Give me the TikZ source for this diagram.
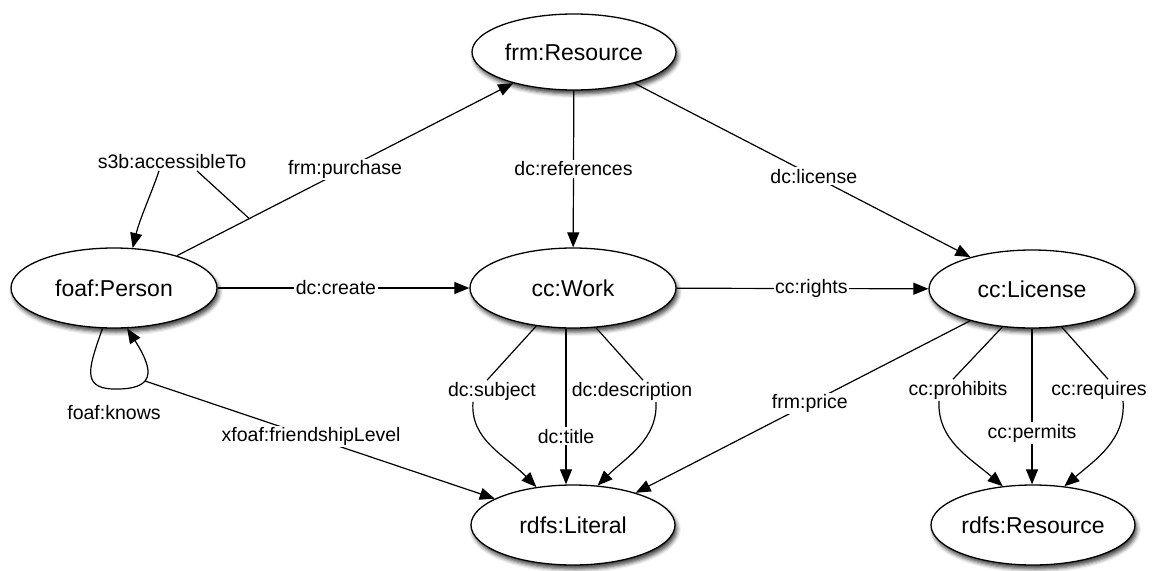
\documentclass[tikz,border=0pt]{standalone}
\usepackage{fontspec}
\setmainfont{Liberation Sans}
\usetikzlibrary{shapes.geometric,arrows.meta,shadows.blur,calc}
\begin{document}
\begin{tikzpicture}[x=1pt,y=-1pt,
  cls/.style={ellipse,draw,line width=1.3pt,fill=white,inner sep=0pt,
    font=\fontsize{23}{26}\selectfont,
    blur shadow={shadow xshift=2pt,shadow yshift=-4pt,shadow blur radius=4pt,shadow opacity=75}},
  edge/.style={line width=1.2pt},
  arr/.style={edge,-{Triangle[length=15pt,width=12pt]}},
  elab/.style={fill=white,inner sep=1.5pt,font=\fontsize{19.5}{22}\selectfont}
]
\useasboundingbox (0,0) rectangle (1155,570);

% classes
\node[cls,minimum width=204pt,minimum height=76pt] (frm)    at (574,52)   {frm:Resource};
\node[cls,minimum width=206pt,minimum height=80pt] (person) at (114,288)  {foaf:Person};
\node[cls,minimum width=206pt,minimum height=80pt] (work)   at (573,288)  {cc:Work};
\node[cls,minimum width=206pt,minimum height=78pt] (lic)    at (1032,289) {cc:License};
\node[cls,minimum width=204pt,minimum height=80pt] (lit)    at (573,525)  {rdfs:Literal};
\node[cls,minimum width=204pt,minimum height=80pt] (res)    at (1033,525) {rdfs:Resource};

% straight properties
\draw[arr] (person) -- node[elab,pos=0.5] (lpur) {frm:purchase} coordinate[pos=0.215] (pa) (frm);
\draw[arr] (person) -- node[elab,pos=0.47] (lcreate) {dc:create} (work);
\draw[arr] (work) -- node[elab,pos=0.535] (lrights) {cc:rights} (lic);
\draw[arr] (frm) -- node[elab,pos=0.5] (lref) {dc:references} (work);
\draw[arr] (frm) -- node[elab,pos=0.534] (llic) {dc:license} (lic);
\draw[arr] (lic) -- node[elab,pos=0.479] (lprice) {frm:price} (lit);

% access statement on the purchase
\node[elab] (ls3b) at (172,162) {s3b:accessibleTo};
\draw[edge] (pa) -- ([xshift=25pt]ls3b.south);
\draw[arr] ([xshift=-13pt]ls3b.south) .. controls (152,192) and (140,218) .. (person.65);

% foaf:knows self loop and its friendship level
\coordinate (kn) at (145,381);
\draw[arr] (person.254) .. controls (90,365) and (80,388) .. (113,389)
  .. controls (155,390) and (155,372) .. (person.288);
\node[elab] (lknows) at (114,413) {foaf:knows};
\draw[arr] (kn) -- node[elab,pos=0.475] (lfriend) {xfoaf:friendshipLevel} (lit);

% cc:Work literals
\coordinate (wt) at ([xshift=-7pt]work.south);
\draw[arr] (wt) -- node[elab,pos=0.69] (ltitle) {dc:title} (wt |- lit.north);
\node[elab] (lsubj) at (492,391) {dc:subject};
\draw[edge] (work.226) -- ([xshift=-5pt]lsubj.north);
\draw[arr] ([xshift=-19pt]lsubj.south) .. controls (470,440) and (505,455) .. (lit.134);
\node[elab] (ldesc) at (632,391) {dc:description};
\draw[edge] (work.300) -- ([xshift=11pt]ldesc.north);
\draw[arr] ([xshift=24pt]ldesc.south) .. controls (658,440) and (625,458) .. (lit.58);

% cc:License resources
\draw[arr] (lic.south) -- node[elab,pos=0.67] (lperm) {cc:permits} (lic.south |- res.north);
\node[elab] (lproh) at (958,390) {cc:prohibits};
\draw[edge] (lic.232) -- ([xshift=-5pt]lproh.north);
\draw[arr] ([xshift=-19pt]lproh.south) .. controls (937,440) and (970,458) .. (res.128);
\node[elab] (lreq) at (1099,390) {cc:requires};
\draw[edge] (lic.308) -- ([xshift=9pt]lreq.north);
\draw[arr] ([xshift=24pt]lreq.south) .. controls (1126,440) and (1095,460) .. (res.51);
\end{tikzpicture}
\end{document}
